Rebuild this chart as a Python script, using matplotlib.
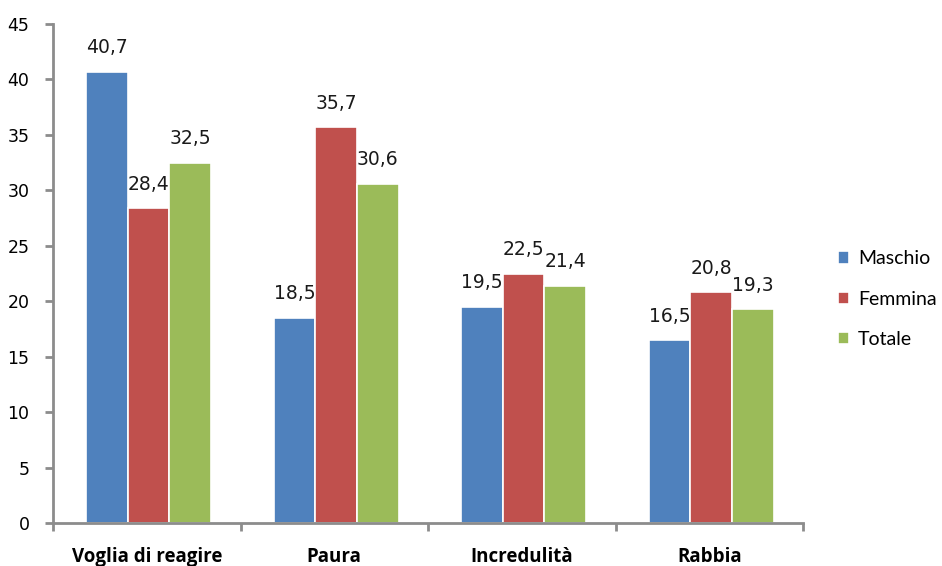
import matplotlib
matplotlib.use("Agg")
import matplotlib.pyplot as plt
import numpy as np

categories = ["Voglia di reagire", "Paura", "Incredulità", "Rabbia"]
series_names = ["Maschio", "Femmina", "Totale"]
maschio = [40.7, 18.5, 19.5, 16.5]
femmina = [28.4, 35.7, 22.5, 20.8]
totale = [32.5, 30.6, 21.4, 19.3]
yticks = [0, 5, 10, 15, 20, 25, 30, 35, 40, 45]
colors = ["#4F81BD", "#C0504D", "#9BBB59"]

fig = plt.figure(figsize=(9.42, 5.66), dpi=100)
ax = fig.add_axes([53/942, 1-523/566, (803-53)/942, (523-24)/566])

x = np.arange(len(categories))
w = 0.222
for i, (vals, name, c) in enumerate(zip([maschio, femmina, totale], series_names, colors)):
    pos = x + (i - 1) * w + 0.01
    ax.bar(pos, vals, width=w, color=c, edgecolor="white", linewidth=1.2, label=name, zorder=2)
    for p, v in zip(pos, vals):
        ax.text(p, v + 1.3, f"{v:.1f}".replace(".", ","), ha="center", va="bottom",
                fontsize=13.5, family="DejaVu Sans", color="#1a1a1a")

ax.set_xlim(-0.5, len(categories) - 0.5)
ax.set_ylim(0, 45)
ax.set_yticks(yticks)
ax.set_yticklabels([str(t) for t in yticks], fontsize=12.5, family="DejaVu Sans")

ax.set_xticks(np.arange(-0.5, len(categories), 1.0))
ax.set_xticklabels([])
ax.set_xticks(x, minor=True)
ax.set_xticklabels(categories, minor=True, fontsize=13.5, fontweight="bold", family="Open Sans")
ax.tick_params(axis="x", which="minor", length=0, pad=17)
ax.tick_params(axis="x", which="major", length=6, width=2, color="#8c8c8c", direction="out")
ax.tick_params(axis="y", length=6, width=2, color="#8c8c8c", direction="out", pad=11)

for s in ["top", "right"]:
    ax.spines[s].set_visible(False)
for s in ["left", "bottom"]:
    ax.spines[s].set_color("#8c8c8c")
    ax.spines[s].set_linewidth(2)

leg = fig.legend(loc="upper left", bbox_to_anchor=(820/942, 1-233/566), frameon=False,
                 handlelength=0.6, handleheight=0.6, handletextpad=0.45, labelspacing=1.2,
                 prop={"family": "Lato", "size": 14})

fig.savefig("out.png", dpi=100)
